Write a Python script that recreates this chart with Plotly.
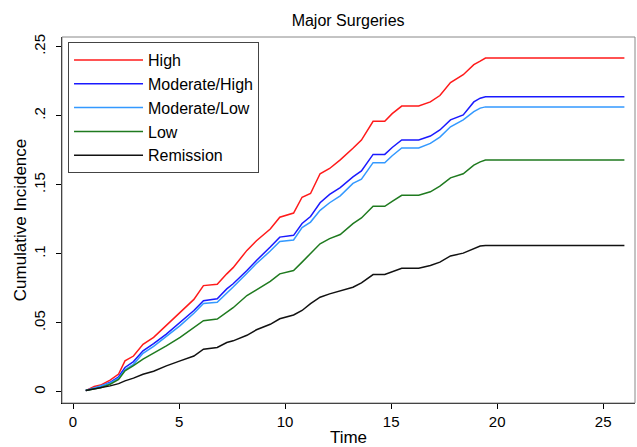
import plotly.graph_objects as go

# follow-up time
time = [0.6, 1.0, 1.3, 1.75, 2.15, 2.45, 2.85, 3.3, 3.8, 4.4, 5.05, 5.7, 6.15, 6.8,
        7.25, 7.55, 8.2, 8.65, 9.3, 9.75, 10.4, 10.8, 11.2, 11.65, 12.1, 12.6, 13.2,
        13.6, 14.15, 14.7, 15.05, 15.5, 16.3, 16.85, 17.3, 17.8, 18.4, 18.9, 19.2,
        19.45, 26.0]

high = [0.001, 0.004, 0.005, 0.0085, 0.013, 0.0225, 0.026, 0.0345, 0.0395, 0.048,
        0.0575, 0.067, 0.077, 0.078, 0.0855, 0.090, 0.1025, 0.1095, 0.118, 0.1265,
        0.1295, 0.141, 0.1437, 0.158, 0.1618, 0.168, 0.1764, 0.1824, 0.196, 0.196,
        0.2015, 0.207, 0.207, 0.210, 0.2146, 0.224, 0.2297, 0.237, 0.2395, 0.2418,
        0.2418]

mod_high = [0.001, 0.003, 0.004, 0.007, 0.011, 0.0177, 0.022, 0.0298, 0.035, 0.0419,
            0.0504, 0.059, 0.0661, 0.0674, 0.0746, 0.0783, 0.0879, 0.0952, 0.1049,
            0.1121, 0.1134, 0.122, 0.127, 0.137, 0.143, 0.148, 0.1557, 0.160, 0.172,
            0.172, 0.177, 0.1824, 0.1824, 0.1853, 0.1897, 0.197, 0.2006, 0.210,
            0.2127, 0.2137, 0.2137]

mod_low = [0.001, 0.003, 0.004, 0.0065, 0.010, 0.016, 0.020, 0.028, 0.033, 0.040,
           0.048, 0.057, 0.064, 0.065, 0.072, 0.076, 0.086, 0.093, 0.102, 0.109,
           0.110, 0.119, 0.123, 0.1315, 0.137, 0.142, 0.151, 0.154, 0.166, 0.166,
           0.171, 0.1766, 0.1766, 0.180, 0.1845, 0.192, 0.197, 0.203, 0.2055,
           0.2064, 0.2064]

low = [0.001, 0.002, 0.003, 0.0056, 0.009, 0.0153, 0.019, 0.0238, 0.028, 0.0334,
       0.0395, 0.0467, 0.0516, 0.0528, 0.0576, 0.061, 0.0698, 0.074, 0.080, 0.0855,
       0.0879, 0.094, 0.100, 0.1073, 0.111, 0.114, 0.1219, 0.126, 0.1344, 0.1344,
       0.138, 0.1424, 0.1424, 0.1449, 0.149, 0.155, 0.158, 0.1642, 0.1666, 0.1679,
       0.1679]

remission = [0.001, 0.002, 0.003, 0.0044, 0.006, 0.008, 0.010, 0.0128, 0.015, 0.0189,
             0.0225, 0.026, 0.031, 0.0322, 0.0358, 0.037, 0.041, 0.045, 0.049, 0.053,
             0.0557, 0.059, 0.064, 0.0686, 0.071, 0.073, 0.0758, 0.079, 0.085, 0.085,
             0.087, 0.0896, 0.0896, 0.0916, 0.094, 0.0985, 0.1005, 0.1039, 0.1056,
             0.1061, 0.1061]

names = ["High", "Moderate/High", "Moderate/Low", "Low", "Remission"]
colors = ["#ff1a1a", "#1a1aff", "#3399ff", "#1f7a1f", "#111111"]
series = [high, mod_high, mod_low, low, remission]

ytick_vals = [0, 0.05, 0.1, 0.15, 0.2, 0.25]
ytick_text = ["0", ".05", ".1", ".15", ".2", ".25"]
xtick_vals = [0, 5, 10, 15, 20, 25]

fig = go.Figure()
for nm, col, ys in zip(names, colors, series):
    fig.add_trace(go.Scatter(x=time, y=ys, mode="lines", name=nm, legendgroup=nm,
                             line=dict(color=col, width=1.5)))

font = "Liberation Sans, Arial, sans-serif"
fig.update_layout(
    width=637, height=447,
    margin=dict(l=62, r=2, t=37, b=44),
    paper_bgcolor="white", plot_bgcolor="white",
    font=dict(family=font, size=14.5, color="black"),
    title=dict(text="Major Surgeries", x=0.5465, xanchor="center", y=0.955,
               yanchor="middle", font=dict(size=16)),
    showlegend=True,
    legend=dict(x=0.0105, y=0.986, xanchor="left", yanchor="top",
                bordercolor="#444444", borderwidth=1, bgcolor="white",
                font=dict(size=16), itemwidth=69, tracegroupgap=0),
    shapes=[dict(type="rect", xref="paper", yref="paper", x0=0, x1=1, y0=0, y1=1,
                 line=dict(color="#888888", width=1))],
)
fig.update_xaxes(range=[-0.52, 26.5], tickvals=xtick_vals, ticks="outside",
                 ticklen=5, tickcolor="black", showgrid=False, zeroline=False,
                 showline=True, linecolor="black", linewidth=1, automargin=False,
                 tickfont=dict(size=15), title=dict(text="Time", standoff=2))
fig.update_yaxes(range=[-0.008, 0.257], tickvals=ytick_vals, ticktext=ytick_text,
                 tickangle=-90, ticks="outside", ticklen=5, tickcolor="black",
                 showgrid=False, zeroline=False, showline=True, linecolor="black",
                 linewidth=1, automargin=False, ticklabelstandoff=5,
                 tickfont=dict(size=15),
                 title=dict(text="Cumulative Incidence", standoff=0))

# page body has a default margin; remove it so the figure fills the window
fig.write_html("out.html", config={"displayModeBar": False},
               post_script="document.body.style.margin='0px';")
